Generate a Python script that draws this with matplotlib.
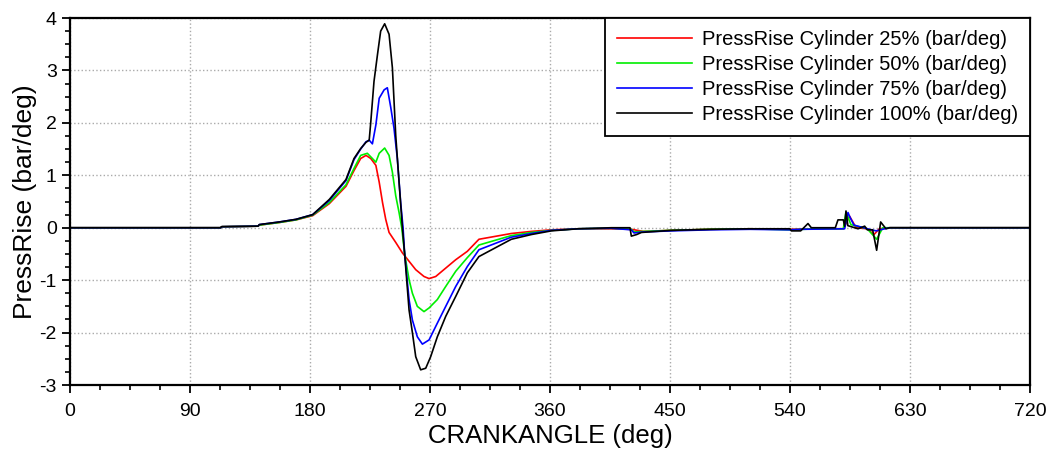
import matplotlib
matplotlib.use('Agg')
import matplotlib.pyplot as plt
from matplotlib.ticker import MultipleLocator

plt.rcParams['font.family'] = ['Liberation Sans', 'DejaVu Sans']
plt.rcParams['axes.unicode_minus'] = False

# crank angle (deg) and pressure rise (bar/deg) for each load case
angle_25 = [0, 113, 114, 141, 142, 157, 169.5, 182, 194.5, 207, 213, 218, 222, 225.6,
            229.4, 231.9, 234.4, 236.8, 239.3, 244.3, 249.3, 254.3, 259.3, 265.5,
            269.3, 274.3, 281.8, 289.3, 298, 306.7, 331, 346, 361, 381, 406, 421,
            430, 451, 480, 510, 540, 560, 580, 584.7, 589.6, 598, 603, 607, 615, 720]
rise_25 = [0, 0, 0.02, 0.03, 0.05, 0.1, 0.15, 0.23, 0.46, 0.79, 1.09, 1.32, 1.38, 1.32,
           1.19, 0.87, 0.48, 0.16, -0.09, -0.28, -0.48, -0.64, -0.8, -0.93,
           -0.97, -0.93, -0.77, -0.61, -0.45, -0.22, -0.11, -0.07, -0.04, -0.02, -0.02, -0.03,
           -0.07, -0.05, -0.03, -0.02, -0.03, -0.02, -0.02, 0.22, 0.0, -0.02, -0.13, -0.02, 0, 0]

angle_50 = [0, 113, 114, 141, 142, 157, 169.5, 182, 194.5, 207, 213, 218, 223, 226.8,
            229.4, 231.9, 236, 239.3, 241.8, 244.3, 246.8, 248.8, 251, 254.3, 256.8,
            260.5, 265.5, 269.3, 275.5, 281.8, 289.3, 298, 306.7, 331, 346, 361, 381,
            406, 421, 423, 430, 451, 480, 510, 540, 560, 580, 582, 585.7, 598, 605,
            609.6, 615, 720]
rise_50 = [0, 0, 0.02, 0.03, 0.05, 0.1, 0.15, 0.24, 0.48, 0.82, 1.13, 1.38, 1.42, 1.32,
           1.25, 1.42, 1.52, 1.38, 1.06, 0.61, 0.29, 0.0, -0.5, -0.99, -1.25,
           -1.5, -1.6, -1.53, -1.37, -1.12, -0.83, -0.57, -0.33, -0.15, -0.09, -0.05, -0.02,
           -0.01, -0.03, -0.08, -0.07, -0.05, -0.03, -0.02, -0.04, -0.02, -0.02, 0.3, 0.06, -0.02, -0.22,
           0.0, 0, 0]

angle_75 = [0, 113, 114, 141, 142, 157, 169.5, 182, 194.5, 207, 213, 218, 222, 224.4,
            226.8, 229.4, 231.9, 235.6, 238, 240.6, 243, 245.5, 248, 249.8, 251,
            254.3, 256.8, 260.5, 264.3, 269.3, 275.5, 281.8, 289.3, 298, 306.7, 331,
            346, 361, 381, 406, 421, 423, 430, 451, 480, 510, 540, 548, 581, 583.5,
            585, 588, 598, 604.6, 611, 615, 720]
rise_75 = [0, 0, 0.02, 0.03, 0.06, 0.11, 0.16, 0.25, 0.52, 0.9, 1.3, 1.5, 1.64, 1.67,
           1.6, 1.96, 2.47, 2.63, 2.67, 2.29, 1.9, 1.32, 0.48, 0.0, -0.5,
           -1.37, -1.76, -2.08, -2.22, -2.14, -1.82, -1.5, -1.12, -0.74, -0.42, -0.18,
           -0.11, -0.05, -0.02, -0.01, -0.04, -0.1, -0.08, -0.06, -0.04, -0.03, -0.04, -0.03, -0.02, 0.29,
           0.2, 0.05, -0.02, -0.06, -0.02, 0, 0]

angle_100 = [0, 113, 113.5, 141, 142, 157, 169.5, 182, 194.5, 207, 213, 218, 222, 224.4,
             225.6, 228, 230.6, 233, 236, 239.3, 241.8, 244.3, 246.8, 249.3, 251,
             254.3, 256.8, 259.3, 263, 266.8, 270.5, 275.5, 281.8, 289.3, 298, 306.7,
             331, 346, 361, 381, 406, 420, 421, 425, 428.6, 451, 480, 510, 531, 540,
             541, 548, 553.5, 556, 574, 576, 580, 581, 582, 583.4, 591, 596, 598, 602,
             605, 608, 612, 614.6, 720]
rise_100 = [0, 0, 0.02, 0.03, 0.06, 0.11, 0.16, 0.25, 0.54, 0.92, 1.32, 1.51, 1.63, 1.67,
            2.02, 2.79, 3.3, 3.75, 3.89, 3.69, 3.05, 1.76, 0.87, 0.0, -0.5,
            -1.57, -2.0, -2.46, -2.71, -2.68, -2.46, -2.08, -1.69, -1.31, -0.86, -0.55,
            -0.22, -0.13, -0.06, -0.02, 0.0, 0.0, -0.16, -0.13, -0.09, -0.05, -0.03, -0.02, -0.02, -0.02,
            -0.06, -0.06, 0.08, 0.0, 0.0, 0.15, 0.15, 0.03, 0.32, 0.04, -0.02, 0.03, -0.04, -0.04,
            -0.43, 0.11, -0.02, 0.0, 0]

labels = ['PressRise Cylinder 25% (bar/deg)', 'PressRise Cylinder 50% (bar/deg)',
          'PressRise Cylinder 75% (bar/deg)', 'PressRise Cylinder 100% (bar/deg)']
colors = ['#ff0000', '#00ee00', '#0000ff', '#000000']

fig = plt.figure(figsize=(10.48, 4.55), dpi=100)
ax = fig.add_axes([0.0668, 0.1538, 0.916, 0.8066])

series = [(angle_25, rise_25), (angle_50, rise_50), (angle_75, rise_75), (angle_100, rise_100)]
for (xs, ys), label, c in zip(series, labels, colors):
    ax.plot(xs, ys, color=c, lw=1.2, label=label)

ax.set_xlim(0, 720)
ax.set_ylim(-3, 4)
ax.xaxis.set_major_locator(MultipleLocator(90))
ax.xaxis.set_minor_locator(MultipleLocator(22.5))
ax.yaxis.set_major_locator(MultipleLocator(1))
ax.yaxis.set_minor_locator(MultipleLocator(0.25))
ax.grid(True, which='major', ls=':', color='#aaaaaa', lw=1)
ax.tick_params(which='major', direction='out', length=6, width=1.3, labelsize=14)
ax.tick_params(which='minor', direction='out', length=3.5, width=1.2)
ax.tick_params(axis='x', which='major', pad=7)
for sp in ax.spines.values():
    sp.set_linewidth(1.6)

ax.set_xlabel('CRANKANGLE (deg)', fontsize=18.5, labelpad=3)
ax.set_ylabel('PressRise (bar/deg)', fontsize=19, labelpad=2)

leg = ax.legend(loc='upper right', fontsize=14.5, handlelength=3.7, fancybox=False,
                framealpha=1, edgecolor='black', borderaxespad=0, labelspacing=0.3,
                borderpad=0.6, handletextpad=0.5)
leg.get_frame().set_linewidth(1.3)

fig.savefig('out.png', dpi=100)
